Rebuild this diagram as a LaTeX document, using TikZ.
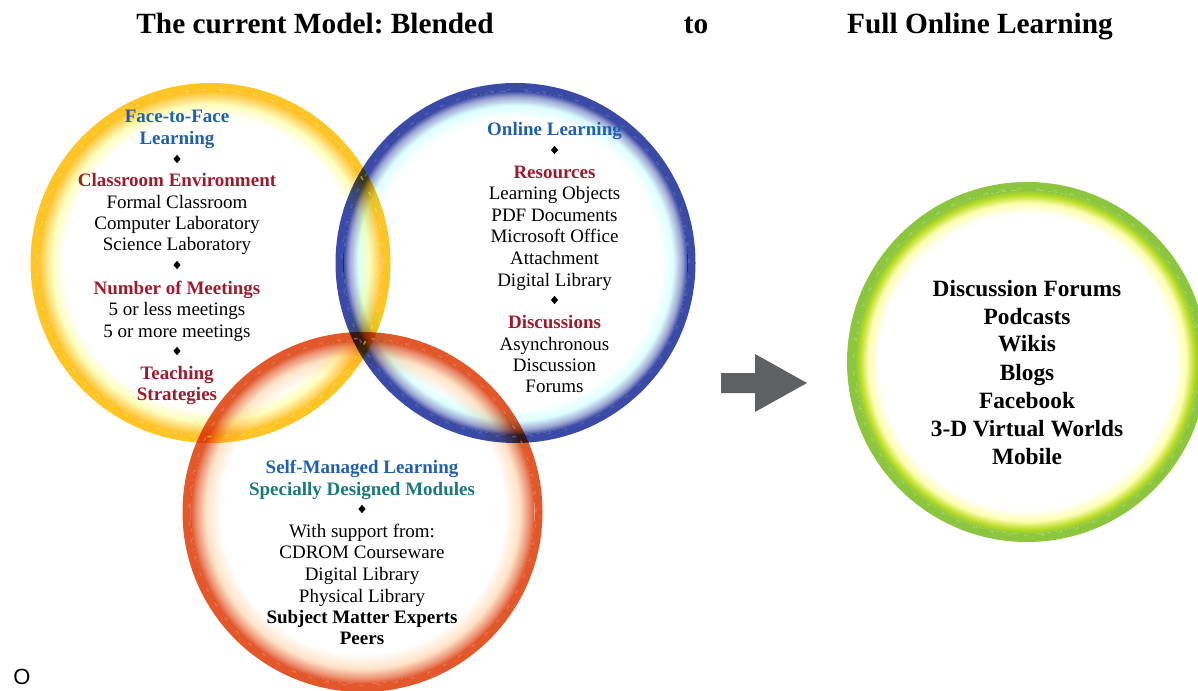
\documentclass[tikz,border=0pt]{standalone}
\usepackage{fontspec}
\setmainfont{Liberation Serif}
\newfontfamily\sansO{Liberation Sans}
\usetikzlibrary{shapes.geometric}
\frenchspacing
\definecolor{yellowc}{HTML}{FFC425}
\definecolor{yellowl}{HTML}{FFE070}
\definecolor{bluec}{HTML}{3A4AA6}
\definecolor{bluel}{HTML}{6070C4}
\definecolor{redc}{HTML}{E2582A}
\definecolor{redl}{HTML}{F08458}
\definecolor{greenc}{HTML}{8CC63F}
\definecolor{greenl}{HTML}{B0DA70}
\definecolor{darkred}{HTML}{9B1C2E}
\definecolor{titleblue}{HTML}{1F5FAE}
\definecolor{teal}{HTML}{197A78}
\definecolor{arrowgray}{HTML}{5F6062}
% shading: 25bp = radius 172
\pgfdeclareradialshading{yshade}{\pgfpointorigin}{color(0bp)=(white); color(21.3bp)=(white); color(23.0bp)=(yellow!25); color(24.3bp)=(yellowc!70); color(25bp)=(yellowc); color(50bp)=(yellowc)}
\pgfdeclareradialshading{bshade}{\pgfpointorigin}{color(0bp)=(white); color(21.0bp)=(white); color(22.9bp)=(cyan!13); color(24.2bp)=(bluec!50); color(25bp)=(bluec); color(50bp)=(bluec)}
\pgfdeclareradialshading{rshade}{\pgfpointorigin}{color(0bp)=(white); color(20.6bp)=(white); color(22.8bp)=(orange!22); color(24.2bp)=(redc!65); color(25bp)=(redc); color(50bp)=(redc)}
\pgfdeclareradialshading{gshade}{\pgfpointorigin}{color(0bp)=(white); color(21.5bp)=(white); color(23.1bp)=(yellow!30); color(24.3bp)=(greenc!60!yellow); color(25bp)=(greenc); color(50bp)=(greenc)}
\tikzset{
  reg/.style={font=\fontsize{14.25}{15.75}\selectfont, anchor=base, inner sep=0pt},
  hdr/.style={reg, font=\fontsize{14.25}{15.75}\selectfont\bfseries, text=darkred},
  ttl/.style={reg, font=\fontsize{14.25}{15.75}\selectfont\bfseries, text=titleblue},
  tealtxt/.style={reg, font=\fontsize{14.25}{15.75}\selectfont\bfseries, text=teal},
  boldtxt/.style={reg, font=\fontsize{14.25}{15.75}\selectfont\bfseries},
  glist/.style={font=\fontsize{17.5}{21}\selectfont\bfseries, anchor=base, inner sep=0pt},
  titletxt/.style={font=\fontsize{22}{26}\selectfont\bfseries, anchor=base, inner sep=0pt},
  dmd/.style={diamond, fill=black, inner sep=0pt, minimum width=5.6pt, minimum height=6.4pt},
  band/.style={line width=6pt},
  ticks/.style={line width=1.2pt, opacity=0.55, dash pattern=on 3pt off 10pt},
}
\begin{document}
\begin{tikzpicture}[x=0.75pt,y=0.75pt]
\useasboundingbox (0,0) rectangle (1198,690);
% circles (multiplied so that overlaps show through)
\begin{scope}[blend mode=multiply]
  \shade[shading=yshade] (210.5,427) circle[radius=172];
  \shade[shading=bshade] (515.5,427) circle[radius=172];
  \shade[shading=rshade] (362.5,178) circle[radius=172];
  \draw[yellowc, band] (210.5,427) circle[radius=176];
  \draw[bluec, band] (515.5,427) circle[radius=176];
  \draw[redc, band] (362.5,178) circle[radius=176];
\end{scope}
\draw[yellowl, ticks] (210.5,427) circle[radius=173.5];
\draw[bluel, ticks] (515.5,427) circle[radius=173.5];
\draw[redl, ticks] (362.5,178) circle[radius=173.5];
\shade[shading=gshade] (1027,328) circle[radius=172];
\draw[greenc, band] (1027,328) circle[radius=176];
\draw[greenl, ticks] (1027,328) circle[radius=173.5];
% arrow
\fill[arrowgray] (721,317) -- (755,317) -- (755,336) -- (807,307) -- (755,278) -- (755,297) -- (721,297) -- cycle;
% titles
\node[titletxt] (t1) at (315,656) {The current Model: Blended};
\node[titletxt] (t2) at (696,656) {to};
\node[titletxt] (t3) at (980,656) {Full Online Learning};
% yellow circle text
\node[ttl] (y1) at (177,567) {Face-to-Face};
\node[ttl] (y2) at (177,545) {Learning};
\node[dmd] (y3) at (177,531) {};
\node[hdr] (y4) at (177,503) {Classroom Environment};
\node[reg] (y5) at (177,481) {Formal Classroom};
\node[reg] (y6) at (177,460) {Computer Laboratory};
\node[reg] (y7) at (177,439) {Science Laboratory};
\node[dmd] (y8) at (177,425) {};
\node[hdr] (y9) at (177,396) {Number of Meetings};
\node[reg] (y10) at (177,375) {5 or less meetings};
\node[reg] (y11) at (177,353) {5 or more meetings};
\node[dmd] (y12) at (177,339) {};
\node[hdr] (y13) at (177,311) {Teaching};
\node[hdr] (y14) at (177,290) {Strategies};
% blue circle text
\node[ttl] (b1) at (554.5,554) {Online Learning};
\node[dmd] (b2) at (554.5,540) {};
\node[hdr] (b3) at (554.5,511) {Resources};
\node[reg] (b4) at (554.5,490) {Learning Objects};
\node[reg] (b5) at (554.5,468) {PDF Documents};
\node[reg] (b6) at (554.5,447) {Microsoft Office};
\node[reg] (b7) at (554.5,426) {Attachment};
\node[reg] (b8) at (554.5,404) {Digital Library};
\node[dmd] (b9) at (554.5,390) {};
\node[hdr] (b10) at (554.5,362) {Discussions};
\node[reg] (b11) at (554.5,340) {Asynchronous};
\node[reg] (b12) at (554.5,319) {Discussion};
\node[reg] (b13) at (554.5,298) {Forums};
% red circle text
\node[ttl] (r1) at (362,217) {Self-Managed Learning};
\node[tealtxt] (r2) at (362,195) {Specially Designed Modules};
\node[dmd] (r3) at (362,181) {};
\node[reg] (r4) at (362,153) {With support from:};
\node[reg] (r5) at (362,132) {CDROM Courseware};
\node[reg] (r6) at (362,110) {Digital Library};
\node[reg] (r7) at (362,88) {Physical Library};
\node[boldtxt] (r8) at (362,67) {Subject Matter Experts};
\node[boldtxt] (r9) at (362,46) {Peers};
% green circle text
\node[glist] (g1) at (1027,393.5) {Discussion Forums};
\node[glist] (g2) at (1027,365.5) {Podcasts};
\node[glist] (g3) at (1027,338.5) {Wikis};
\node[glist] (g4) at (1027,309.5) {Blogs};
\node[glist] (g5) at (1027,281.5) {Facebook};
\node[glist] (g6) at (1027,253.5) {3-D Virtual Worlds};
\node[glist] (g7) at (1027,225.5) {Mobile};
% stray letter
\node[font=\sansO\fontsize{16.5}{19}\selectfont, anchor=base, inner sep=0pt] (o1) at (22,6) {O};
\end{tikzpicture}
\end{document}
